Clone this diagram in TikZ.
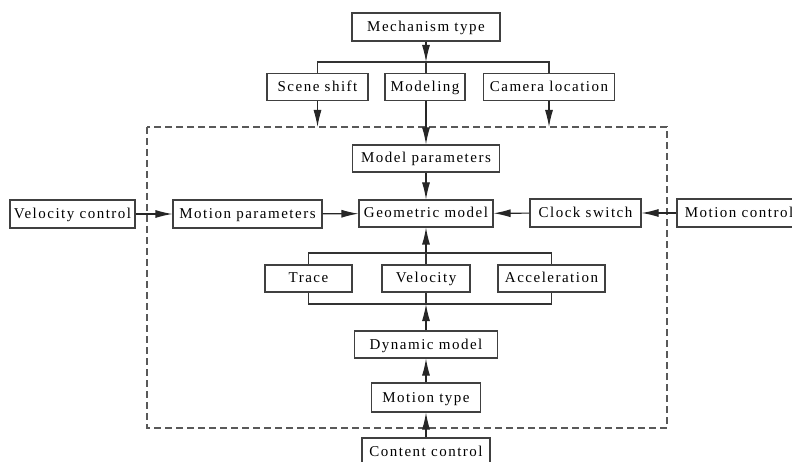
\documentclass[tikz,border=0pt]{standalone}
\usepackage{fontspec}
\setmainfont[LetterSpace=10]{Liberation Serif}
\usetikzlibrary{arrows.meta}
\begin{document}
\begin{tikzpicture}[x=1pt,y=-1pt,
  box/.style={draw=black!75, line width=1.1pt, fill=white, inner sep=0pt,
    text height=10pt, text depth=1pt,
    font=\fontsize{15}{16}\selectfont, text=black},
  arr/.style={draw=black!85, line width=1.1pt, -{Latex[length=17pt,width=8pt]}},
  ln/.style={draw=black!80, line width=1.1pt},
  dbox/.style={draw=black!65, line width=1.2pt, dash pattern=on 7pt off 4pt}]
\useasboundingbox (0,0) rectangle (792,462);
% dashed frame
\draw[dbox] (147,127) rectangle (667,428);
\coordinate (dtop) at (0,127);
\coordinate (dbot) at (0,428);
% top part
\node[box, minimum width=148pt, minimum height=28pt] (mech) at (426,27) {Mechanism type};
\node[box, minimum width=101pt, minimum height=27pt] (scene) at (317.5,87) {Scene shift};
\node[box, minimum width=80pt, minimum height=27pt] (modeling) at (425,87) {Modeling};
\node[box, minimum width=131pt, minimum height=27pt] (camera) at (549,87) {Camera location};
\coordinate (tb) at (426,62);
\draw[ln] (scene.north) |- (tb) -| (camera.north);
\draw[ln] (tb) -- (tb |- modeling.north);
\draw[arr] (mech.south -| tb) -- (tb);
\draw[arr] (scene.south) -- (scene.south |- dtop);
\draw[arr] (camera.south) -- (camera.south |- dtop);
% middle
\node[box, minimum width=147pt, minimum height=27pt] (mp) at (426,158.5) {Model parameters};
\node[box, minimum width=134pt, minimum height=27pt] (geo) at (426,213.5) {Geometric model};
\node[box, minimum width=149pt, minimum height=28pt] (mpar) at (247.5,214) {Motion parameters};
\node[box, minimum width=125pt, minimum height=28pt] (vctrl) at (72.5,214) {Velocity control};
\node[box, minimum width=111pt, minimum height=28pt] (clock) at (585.5,213) {Clock switch};
\node[box, minimum width=124pt, minimum height=28pt] (mctrl) at (739,213) {Motion control};
\draw[arr] (tb |- modeling.south) -- (tb |- mp.north);
\draw[arr] (mp) -- (geo);
\draw[arr] (vctrl) -- (mpar);
\draw[arr] (mpar) -- (geo);
\draw[arr] (mctrl) -- (clock);
\draw[arr] (clock) -- (geo);
% kinematics row
\node[box, minimum width=87pt, minimum height=27pt] (trace) at (308.5,278.5) {Trace};
\node[box, minimum width=88pt, minimum height=27pt] (vel) at (426,278.5) {Velocity};
\node[box, minimum width=107pt, minimum height=27pt] (acc) at (551.5,278.5) {Acceleration};
\coordinate (kt) at (426,253);
\coordinate (kb) at (426,304);
\draw[ln] (trace.north) |- (kt) -| (acc.north);
\draw[ln] (trace.south) |- (kb) -| (acc.south);
\draw[ln] (vel.north) -- (kt);
\draw[arr] (kt) -- (geo.south);
\draw[ln] (vel.south) -- (kb);
% bottom
\node[box, minimum width=143pt, minimum height=27pt] (dyn) at (426,344.5) {Dynamic model};
\node[box, minimum width=109pt, minimum height=29pt] (mtype) at (426,397.5) {Motion type};
\node[box, minimum width=128pt, minimum height=28pt] (cctrl) at (426,452) {Content control};
\draw[arr] (dyn.north) -- (kb);
\draw[arr] (mtype) -- (dyn);
\draw[arr] (cctrl) -- (mtype);
\end{tikzpicture}
\end{document}
